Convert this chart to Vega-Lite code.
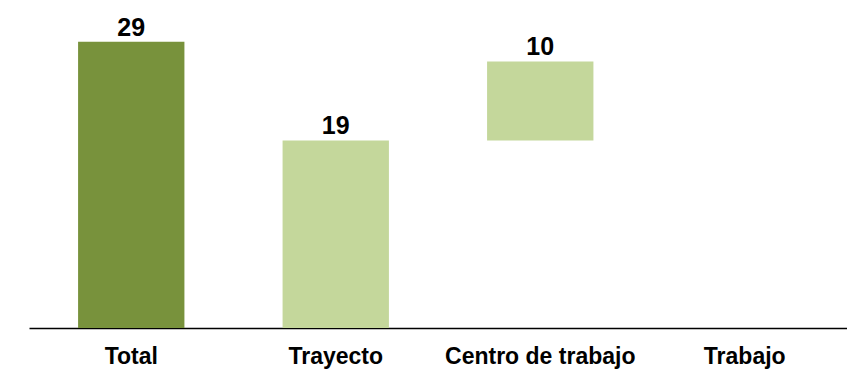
{
  "$schema": "https://vega.github.io/schema/vega-lite/v6.json",
  "width": 818,
  "height": 316,
  "autosize": {"type": "none"},
  "padding": {"left": 29, "top": 12, "right": 0, "bottom": 45},
  "background": "white",
  "config": {"view": {"stroke": null}, "font": "Liberation Sans"},
  "data": {
    "values": [
      {"cat": "Total", "start": 0, "end": 29, "label": "29", "kind": "total"},
      {"cat": "Trayecto", "start": 0, "end": 19, "label": "19", "kind": "part"},
      {"cat": "Centro de trabajo", "start": 19, "end": 27, "label": "10", "kind": "part"},
      {"cat": "Trabajo", "start": 0, "end": 0, "label": "", "kind": "none"}
    ]
  },
  "encoding": {
    "x": {
      "field": "cat",
      "type": "nominal",
      "sort": null,
      "scale": {"domain": ["Total", "Trayecto", "Centro de trabajo", "Trabajo"], "paddingInner": 0.48, "paddingOuter": 0.24},
      "axis": {
        "title": null,
        "labelAngle": 0,
        "ticks": false,
        "domain": true,
        "domainColor": "black",
        "domainWidth": 1.5,
        "labelFontSize": 23,
        "labelFontWeight": "bold",
        "labelColor": "black",
        "labelPadding": 17,
        "labelLimit": 0,
        "labelOverlap": false
      }
    }
  },
  "layer": [
    {
      "transform": [{"filter": "datum.kind != 'none'"}],
      "mark": {"type": "bar"},
      "encoding": {
        "y": {"field": "start", "type": "quantitative", "scale": {"domain": [0, 32], "nice": false, "zero": true}, "axis": null},
        "y2": {"field": "end"},
        "color": {
          "field": "kind",
          "type": "nominal",
          "scale": {"domain": ["total", "part"], "range": ["#78923C", "#C4D79B"]},
          "legend": null
        }
      }
    },
    {
      "transform": [{"filter": "datum.kind != 'none'"}],
      "mark": {"type": "text", "baseline": "alphabetic", "dy": -6, "fontSize": 25, "fontWeight": "bold", "color": "black"},
      "encoding": {
        "y": {"field": "end", "type": "quantitative", "scale": {"domain": [0, 32], "nice": false, "zero": true}},
        "text": {"field": "label"}
      }
    }
  ]
}
